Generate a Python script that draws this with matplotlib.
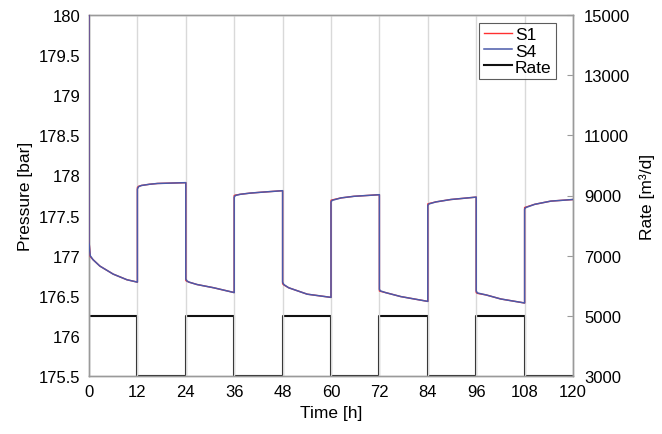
import matplotlib
matplotlib.use("Agg")
import matplotlib.pyplot as plt

plt.rcParams['font.family'] = ['Liberation Sans', 'DejaVu Sans']

# Time [h] (duplicated times mark the instantaneous rate switches)
time_h = [0, 0, 0.3, 1.0, 2.7, 6.0, 9.4, 12,
          12, 12.3, 13, 15, 17, 24,
          24, 24.3, 24.8, 26.8, 30.9, 36,
          36, 36.3, 37.5, 40, 42.5, 48,
          48, 48.3, 49.5, 54.1, 60,
          60, 60.3, 62.5, 65.7, 72,
          72, 72.3, 73.5, 77.3, 84,
          84, 84.3, 86, 89.7, 96,
          96, 96.3, 98.5, 102.1, 108,
          108, 108.3, 110.5, 114.5, 120]

s4 = [180.0, 177.17, 177.00, 176.95, 176.87, 176.77, 176.70, 176.67,
      177.83, 177.86, 177.875, 177.89, 177.90, 177.91,
      176.71, 176.685, 176.67, 176.64, 176.60, 176.54,
      177.73, 177.75, 177.765, 177.78, 177.79, 177.81,
      176.67, 176.64, 176.60, 176.52, 176.48,
      177.67, 177.69, 177.72, 177.74, 177.76,
      176.58, 176.56, 176.54, 176.49, 176.43,
      177.625, 177.645, 177.67, 177.70, 177.73,
      176.56, 176.535, 176.51, 176.46, 176.41,
      177.58, 177.60, 177.64, 177.68, 177.70]

s1 = [180.0, 177.19, 176.99, 176.95, 176.87, 176.77, 176.70, 176.67,
      177.85, 177.865, 177.875, 177.89, 177.90, 177.91,
      176.69, 176.68, 176.67, 176.64, 176.60, 176.54,
      177.75, 177.755, 177.765, 177.78, 177.79, 177.81,
      176.65, 176.635, 176.60, 176.52, 176.48,
      177.69, 177.695, 177.72, 177.74, 177.76,
      176.56, 176.555, 176.54, 176.49, 176.43,
      177.645, 177.65, 177.67, 177.70, 177.73,
      176.54, 176.53, 176.51, 176.46, 176.41,
      177.60, 177.605, 177.64, 177.68, 177.70]

rate_t = [0, 12, 12, 24, 24, 36, 36, 48, 48, 60, 60, 72, 72, 84, 84, 96, 96, 108, 108, 120]
rate_q = [5000, 5000, 3000, 3000, 5000, 5000, 3000, 3000, 5000, 5000,
          3000, 3000, 5000, 5000, 3000, 3000, 5000, 5000, 3000, 3000]

x_ticks = [0, 12, 24, 36, 48, 60, 72, 84, 96, 108, 120]
p_ticks = [175.5, 176, 176.5, 177, 177.5, 178, 178.5, 179, 179.5, 180]
p_labels = ['175.5', '176', '176.5', '177', '177.5', '178', '178.5', '179', '179.5', '180']
q_ticks = [3000, 5000, 7000, 9000, 11000, 13000, 15000]

fig = plt.figure(figsize=(6.62, 4.35), dpi=100)
ax = fig.add_axes([89/662, 1 - 377/435, (573 - 89)/662, (377 - 16)/435])
ax2 = ax.twinx()

spine_col = '#9a9a9a'
for a in (ax, ax2):
    for s in a.spines.values():
        s.set_color(spine_col)
        s.set_linewidth(1.0)

ax.set_xlim(0, 120)
ax.set_ylim(175.5, 180)
ax.set_xticks(x_ticks)
ax.set_yticks(p_ticks)
ax.set_yticklabels(p_labels)
ax.tick_params(axis='both', length=0, labelsize=12, pad=6, colors='black')
ax.xaxis.grid(True, color='#d9d9d9', linewidth=1.0)
ax.set_axisbelow(True)

l1, = ax.plot(time_h, s1, color='#ff3030', linewidth=1.0, label='S1', zorder=3)
l4, = ax.plot(time_h, s4, color='#4a5aaa', linewidth=1.1, label='S4', zorder=4)

ax2.set_ylim(3000, 15000)
ax2.set_yticks(q_ticks)
ax2.tick_params(axis='y', direction='in', length=4, color=spine_col, labelsize=12, pad=8)
lr, = ax2.plot(rate_t, rate_q, color='#111111', linewidth=1.5, label='Rate', zorder=2)

ax.set_xlabel('Time [h]', fontsize=12.5, labelpad=4)
ax.set_ylabel('Pressure [bar]', fontsize=12.5, labelpad=4)
ax2.set_ylabel('Rate [m³/d]', fontsize=12.5, labelpad=6)

leg = ax.legend(handles=[l1, l4, lr], loc='upper right',
                bbox_to_anchor=(556/662, 1 - 24/435), bbox_transform=fig.transFigure,
                fontsize=12.5, frameon=True, fancybox=False, edgecolor='#333333',
                handlelength=1.6, handletextpad=0.2, labelspacing=0.05,
                borderpad=0.25, borderaxespad=0)
leg.get_frame().set_linewidth(0.8)
ax.set_zorder(ax2.get_zorder() + 1)
ax.patch.set_visible(False)

fig.savefig('out.png', dpi=100)
